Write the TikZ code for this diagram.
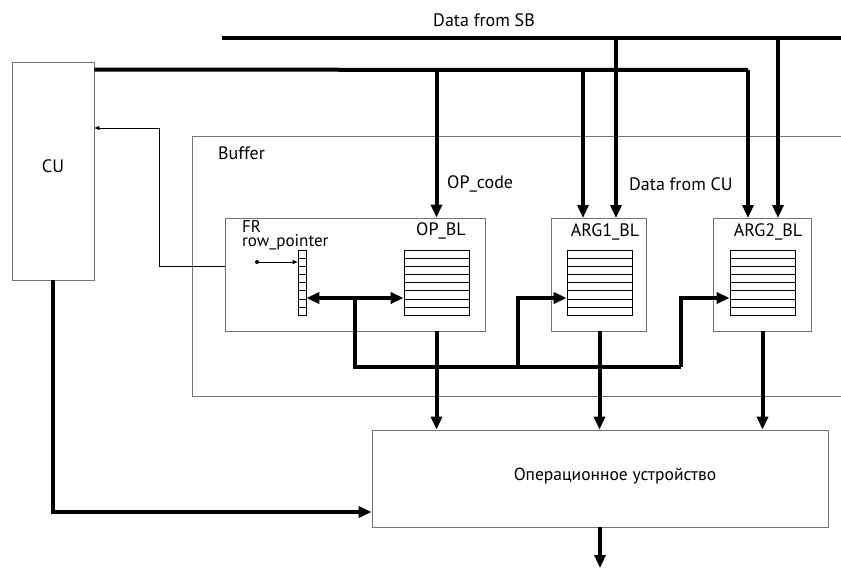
\documentclass[tikz,border=0pt]{standalone}
\usepackage{fontspec}
\setmainfont{PT Sans}
\usepackage{tikz}
\usetikzlibrary{arrows.meta, calc}

\begin{document}
\begin{tikzpicture}[x=1pt,y=-1pt,font=\fontsize{18}{20}\selectfont,
  blk/.style={draw=black!55, line width=0.8pt, inner sep=0pt},
  reg/.style={draw=black, line width=0.7pt, minimum width=65, minimum height=65, inner sep=0pt},
  bus/.style={line width=4pt},
  busarrow/.style={line width=4pt, -{Triangle[length=13pt,width=11pt]}},
  dbus/.style={line width=4pt, {Triangle[length=13pt,width=11pt]}-{Triangle[length=13pt,width=11pt]}},
  thinarrow/.style={line width=0.8pt, -{Triangle[length=5pt,width=4pt]}},
  frtext/.style={anchor=base west, inner sep=0pt, font=\fontsize{17}{18}\selectfont}]
\useasboundingbox (0,0) rectangle (841,570);

\node[blk, minimum width=82, minimum height=218] (cu) at (53,171) {};
\node (culbl) at (53,166) {CU};
\draw[blk] (841,136) -- (192,136) -- (192,396) -- (841,396);
\node[anchor=west, inner sep=0pt] (buflbl) at (218,153) {Buffer};

\node[blk, minimum width=260, minimum height=113] (fr) at (355,274.5) {};
\node[blk, minimum width=95, minimum height=113] (arg1) at (598.5,274.5) {};
\node[blk, minimum width=98, minimum height=113] (arg2) at (762,274.5) {};
\node[blk, minimum width=456, minimum height=97] (ou) at (600,478.5) {};
\node[font=\fontsize{17.5}{19}\selectfont] (oulbl) at (615,476) {Операционное устройство};

\node[reg] (opreg) at (436.5,282.5) {};
\node[reg] (a1reg) at (599.5,282.5) {};
\node[reg] (a2reg) at (762.5,282.5) {};
\node[reg, minimum width=8] (ptr) at (302,282.5) {};
\foreach \r in {opreg,a1reg,a2reg,ptr}{
  \foreach \k in {1,...,7}{
    \draw[line width=0.7pt] ($(\r.north west)!\k/8!(\r.south west)$) -- ($(\r.north east)!\k/8!(\r.south east)$);
  }
}

\node[frtext] (frlbl) at (242,232) {FR};
\node[frtext] (rplbl) at (242,246) {row\_pointer};
\node (oplbl) at (441,231) {OP\_BL};
\node (a1lbl) at (605,232) {ARG1\_BL};
\node (a2lbl) at (768,232) {ARG2\_BL};
\node (sblbl) at (484,20) {Data from SB};
\node[anchor=west, inner sep=0pt] (opclbl) at (447,184) {OP\_code};
\node[anchor=west, inner sep=0pt] (cdlbl) at (629,184) {Data from CU};

\coordinate (sbL) at (222,38);
\coordinate (sbR) at (841,38);
\coordinate (cubus) at ($(cu.north east)+(0,8)$);
\coordinate (cuR) at (748,70);
\coordinate (dot) at (257,262);
\coordinate (jn) at (355,298);
\coordinate (bl) at (355,367);
\coordinate (br) at (681,367);
\coordinate (bm) at (518,367);
\coordinate (out) at (600,568);

\draw[bus] (sbL) -- (sbR);
\draw[bus] (cubus) -- (cuR);
\draw[busarrow] (opreg |- cubus) -- (opreg |- fr.north);
\draw[busarrow] (583,70) -- (583,218);
\draw[busarrow] (616,38) -- (616,218);
\draw[busarrow] (cuR) -- (748,218);
\draw[busarrow] (778,38) -- (778,218);

\fill (dot) circle (2pt);
\draw[thinarrow] (dot) -- (ptr.west |- dot);
\draw[thinarrow] (fr.west |- 0,266) -- (159,266) -- (159,128) -- (cu.east |- 0,128);

\draw[dbus] (ptr.east |- jn) -- (opreg.west |- jn);
\draw[bus] (jn) -- (bl) -- (br);
\draw[busarrow] (bm) -- (518,298) -- (a1reg.west |- 0,298);
\draw[busarrow] (br) -- (681,298) -- (a2reg.west |- 0,298);

\draw[busarrow] (opreg |- fr.south) -- (opreg |- ou.north);
\draw[busarrow] (a1reg |- arg1.south) -- (a1reg |- ou.north);
\draw[busarrow] (a2reg |- arg2.south) -- (a2reg |- ou.north);
\draw[busarrow] (ou.south) -- (out);
\draw[busarrow] (cu.south) |- ($(ou.west)+(0,33.5)$);
\end{tikzpicture}
\end{document}
